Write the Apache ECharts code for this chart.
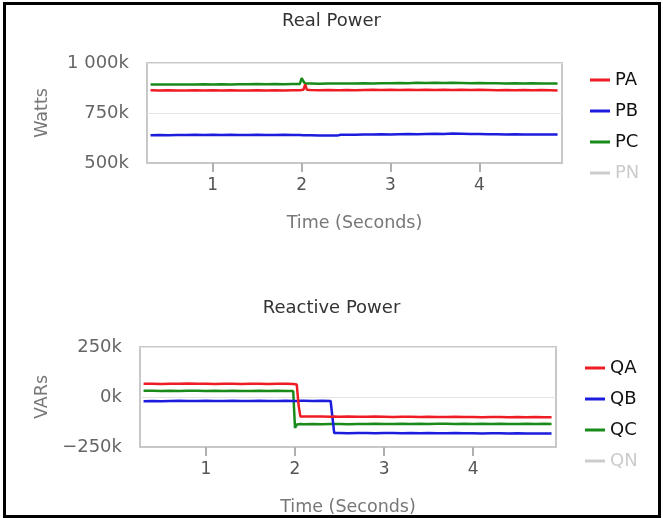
<!DOCTYPE html>
<html>
<head>
<meta charset="utf-8">
<script src="https://cdn.jsdelivr.net/npm/echarts@6/dist/echarts.min.js"></script>
<style>
  html, body { margin: 0; padding: 0; background: #fff; }
  #wrap { position: relative; width: 663px; height: 518px; }
  #chart { position: absolute; left: 0; top: 0; width: 663px; height: 518px; }
  #frame { position: absolute; left: 3px; top: 2px; right: 2px; bottom: 0px; border: 3px solid #000; box-sizing: border-box; pointer-events: none; }
</style>
</head>
<body>
<div id="wrap"><div id="chart"></div><div id="frame"></div></div>
<script>
// Time (seconds)
const times = [0.30,0.40,0.50,0.60,0.70,0.80,0.90,1.00,1.10,1.20,1.30,1.40,1.50,1.60,1.70,1.80,1.90,
  1.98,2.00,2.02,2.04,2.06,
  2.10,2.20,2.30,2.40,
  2.42,2.44,
  2.50,2.60,2.70,2.80,2.90,3.00,3.10,3.20,3.30,3.40,3.50,3.60,3.70,3.80,3.90,4.00,4.10,4.20,4.30,4.40,4.50,4.60,4.70,4.80,
  4.88];

// Real power (k Watts)
const PA = [864,863,864,862,863,864,863,864,863,864,863,862,864,863,864,863,864,
  864,864,866,893,866,
  865,864,865,864,
  865,864,
  865,864,865,866,865,866,865,866,865,866,865,866,865,866,865,866,865,864,865,864,865,864,865,864,
  863];
const PB = [639,640,639,640,640,641,640,641,640,641,640,640,641,640,640,641,640,
  640,640,639,640,639,
  639,638,637,637,
  640,641,
  641,641,642,642,644,643,644,645,644,645,646,645,647,646,645,645,644,644,643,644,643,643,642,642,
  642];
const PC = [892,892,893,892,893,893,894,893,894,893,894,894,895,894,895,894,895,
  895,925,908,897,896,
  897,896,897,897,
  898,897,
  898,898,899,898,899,899,900,899,901,900,901,900,901,900,899,900,899,899,898,899,898,899,898,898,
  898];
const PN = [];

// Reactive power (k VARs)
const QA = [66,66,65,66,66,67,66,66,65,66,66,65,66,66,65,66,66,
  65,65,62,-40,-97,
  -98,-97,-98,-99,
  -99,-98,
  -99,-98,-99,-99,-98,-99,-100,-99,-99,-100,-99,-100,-100,-99,-100,-100,-101,-100,-100,-101,-100,-101,-100,-101,
  -101];
const QB = [-21,-20,-21,-20,-19,-20,-20,-19,-20,-20,-19,-20,-20,-19,-20,-20,-19,
  -20,-20,-20,-20,-19,
  -19,-20,-19,-20,
  -20,-180,
  -180,-181,-180,-180,-181,-180,-180,-181,-180,-181,-180,-181,-181,-180,-181,-181,-182,-181,-181,-182,-181,-182,-182,-182,
  -182];
const QC = [31,31,30,31,30,31,31,30,31,30,31,30,30,31,30,31,30,
  30,-155,-138,-136,-135,
  -136,-135,-136,-135,
  -136,-135,
  -135,-136,-135,-135,-134,-135,-135,-134,-135,-134,-135,-134,-134,-135,-134,-135,-134,-135,-134,-135,-135,-134,-135,-134,
  -135];
const QN = [];

// Axis ticks
const xTicks = [1, 2, 3, 4];
const xRange = [0.26, 4.93];
const pRange = [500, 1000];
const qRange = [-250, 250];
const yInterval = 250;

const pair = vals => vals.map((v, i) => [times[i], v]);
const fmtK = v => {
  const s = Math.abs(v).toString().replace(/\B(?=(\d{3})+(?!\d))/g, ' ');
  return (v < 0 ? '\u2212' : '') + s + 'k';
};

const FONT = 'DejaVu Sans';
const colors = { A: '#ee1c24', B: '#1c1cdc', C: '#1a8a1a', N: '#cccccc' };

function xAxis(gridIndex) {
  return {
    type: 'value', gridIndex, min: xRange[0], max: xRange[1], position: 'bottom',
    name: 'Time (Seconds)', nameLocation: 'middle', nameGap: 51,
    nameTextStyle: { fontFamily: FONT, fontSize: 17.5, color: '#777' },
    axisLine: { show: true, onZero: false, lineStyle: { color: '#c8c8c8', width: 2 } },
    axisTick: { show: true, inside: false, length: 9, customValues: xTicks, lineStyle: { color: '#b0b0b0', width: 2 } },
    axisLabel: { customValues: xTicks, margin: 14, fontFamily: FONT, fontSize: 17, color: '#555' },
    splitLine: { show: false }
  };
}
function yAxis(gridIndex, range, name, gap) {
  return {
    type: 'value', gridIndex, min: range[0], max: range[1], interval: yInterval,
    name, nameLocation: 'middle', nameGap: gap, nameRotate: 90,
    nameTextStyle: { fontFamily: FONT, fontSize: 17.5, color: '#777' },
    axisLine: { show: false }, axisTick: { show: false },
    axisLabel: { margin: 18, fontFamily: FONT, fontSize: 18, color: '#666', formatter: fmtK },
    splitLine: { show: true, lineStyle: { color: '#e4e4e4', width: 1 } }
  };
}
function line(name, vals, color, xi) {
  return {
    name, type: 'line', xAxisIndex: xi, yAxisIndex: xi, data: pair(vals),
    showSymbol: false, symbol: 'none', animation: false,
    lineStyle: { color, width: 2.5 }, itemStyle: { color }
  };
}
function legend(names, left, top, selected) {
  return {
    data: names, orient: 'vertical', left, top, itemWidth: 20, itemHeight: 3, itemGap: 11,
    icon: 'rect', selected, inactiveColor: '#cccccc',
    textStyle: { fontFamily: FONT, fontSize: 18, color: '#111', lineHeight: 20 }
  };
}

const chart = echarts.init(document.getElementById('chart'), null, { renderer: 'canvas' });
chart.setOption({
  animation: false,
  backgroundColor: '#fff',
  title: [
    { text: 'Real Power', left: 'center', top: 7, textStyle: { fontFamily: FONT, fontSize: 18, fontWeight: 'normal', color: '#333' } },
    { text: 'Reactive Power', left: 'center', top: 294, textStyle: { fontFamily: FONT, fontSize: 18, fontWeight: 'normal', color: '#333' } }
  ],
  legend: [
    legend(['PA', 'PB', 'PC', 'PN'], 585, 65, { PN: false }),
    legend(['QA', 'QB', 'QC', 'QN'], 580, 353, { QN: false })
  ],
  grid: [
    { left: 147, top: 63, width: 415, height: 100, show: true, borderColor: '#c8c8c8', borderWidth: 2, backgroundColor: '#fff', z: -1 },
    { left: 140, top: 347, width: 416, height: 100, show: true, borderColor: '#c8c8c8', borderWidth: 2, backgroundColor: '#fff', z: -1 }
  ],
  xAxis: [xAxis(0), xAxis(1)],
  yAxis: [yAxis(0, pRange, 'Watts', 96), yAxis(1, qRange, 'VARs', 88)],
  series: [
    line('PC', PC, colors.C, 0),
    line('PA', PA, colors.A, 0),
    line('PB', PB, colors.B, 0),
    line('PN', PN, colors.N, 0),
    line('QC', QC, colors.C, 1),
    line('QB', QB, colors.B, 1),
    line('QA', QA, colors.A, 1),
    line('QN', QN, colors.N, 1)
  ]
});
</script>
</body>
</html>
